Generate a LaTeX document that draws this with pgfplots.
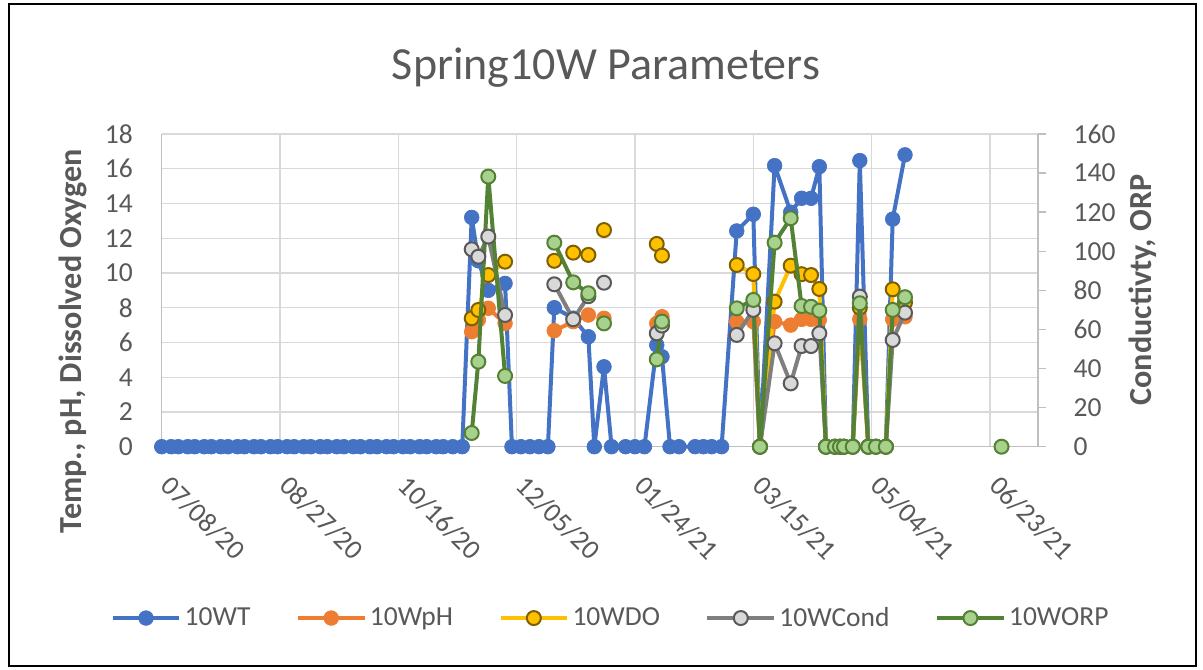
\documentclass[border=0pt]{standalone}
\usepackage{fontspec}
\setmainfont{Carlito}
\usepackage{pgfplots}
\pgfplotsset{compat=1.18}
\usepackage{pgfplotstable}
\definecolor{cWT}{HTML}{4472C4}
\definecolor{cPH}{HTML}{ED7D31}
\definecolor{cDO}{HTML}{FFC000}
\definecolor{cDOe}{HTML}{7F6000}
\definecolor{cCondL}{HTML}{7F7F7F}
\definecolor{cCondF}{HTML}{D9D9D9}
\definecolor{cCondE}{HTML}{595959}
\definecolor{cORP}{HTML}{548235}
\definecolor{cORPf}{HTML}{A9D18E}
\definecolor{cText}{HTML}{595959}
\definecolor{cGrid}{HTML}{D9D9D9}
\definecolor{cAxis}{HTML}{BFBFBF}

\pgfplotstableread{
x y
0 0
4 0
7 0
11 0
14 0
18 0
21 0
25 0
28 0
32 0
35 0
39 0
42 0
46 0
49 0
53 0
56 0
60 0
63 0
67 0
70 0
74 0
77 0
81 0
84 0
88 0
91 0
95 0
98 0
102 0
105 0
109 0
112 0
116 0
119 0
123 0
127 0
131 13.2
133.8 10.7
138 9.0
145.1 9.4
148 0
151.8 0
155.6 0
159.4 0
163.2 0
165.9 8.0
173.9 7.4
180.3 6.33
182.8 0
186.9 4.6
190.1 0
196 0
200 0
204 0
209.2 5.85
211.4 5.18
214.8 0
218.6 0
225.4 0
228.9 0
232.4 0
236.6 0
243 12.42
250 13.38
252.8 0
259 16.18
265.8 13.5
270.4 14.3
274.4 14.3
277.9 16.12
280.7 0
284.5 0
286.6 0
288.3 0
292 0
295 16.47
298.6 0
301.8 0
306 0
308.9 13.1
314.1 16.8
}\tWT

\pgfplotstableread{
x y
131 6.62
133.8 7.3
138 7.97
145.1 7.1
150 nan
165.9 6.68
173.9 7.2
180.3 7.58
182.8 nan
186.9 7.39
190 nan
209.2 7.1
211.4 7.48
214 nan
243 7.2
250 7.2
252.8 0
259 7.2
265.8 7.0
270.4 7.33
274.4 7.33
277.9 7.3
280.7 0
284.5 0
286.6 0
288.3 0
292 0
295 7.33
298.6 0
301.8 0
306 0
308.9 7.33
314.1 7.48
}\tPH

\pgfplotstableread{
x y
131 7.39
133.8 7.87
138 9.88
145.1 10.65
150 nan
165.9 10.7
170 nan
173.9 11.17
177 nan
180.3 11.04
182.8 nan
186.9 12.47
190 nan
209.2 11.67
210.3 nan
211.4 11.0
214 nan
243 10.46
250 9.94
252.8 0
259 8.35
265.8 10.42
270.4 9.93
274.4 9.88
277.9 9.08
280.7 0
284.5 0
286.6 0
288.3 0
292 0
295 8.0
298.6 0
301.8 0
306 0
308.9 9.06
314.1 8.3
}\tDO

\pgfplotstableread{
x y
131 101
133.8 97.2
138 107.5
145.1 67.4
150 nan
165.9 83.1
173.9 65.2
180.3 77
182.8 nan
186.9 83.9
190 nan
209.2 58.0
211.4 62
214 nan
243 57.2
250 70.0
252.8 0
259 52.9
265.8 32.4
270.4 51.5
274.4 51.5
277.9 58.0
280.7 0
284.5 0
286.6 0
288.3 0
292 0
295 76.8
298.6 0
301.8 0
306 0
308.9 54.6
314.1 68.6
}\tCond

\pgfplotstableread{
x y
131 7.0
133.8 43.5
138 138.2
145.1 36.2
150 nan
165.9 104.4
173.9 84.1
180.3 78.5
182.8 nan
186.9 63.1
190 nan
209.2 44.7
211.4 64.0
214 nan
243 70.8
250 75.1
252.8 0
259 104.4
265.8 116.9
270.4 72.0
274.4 71.6
277.9 69.6
280.7 0
284.5 0
286.6 0
288.3 0
292 0
295 73.4
298.6 0
301.8 0
306 0
308.9 70.0
314.1 76.5
330 nan
354.9 0
}\tORP

\pgfplotsset{
  sWT/.style={color=cWT, line width=2.4pt, line join=round, mark=*, mark size=4.4pt, mark options={solid, fill=cWT, draw=cWT, line width=0.4pt}},
  sPH/.style={color=cPH, line width=2.4pt, line join=round, mark=*, mark size=4.4pt, mark options={solid, fill=cPH, draw=cPH, line width=0.4pt}},
  sDO/.style={color=cDO, line width=2.4pt, line join=round, mark=*, mark size=4.2pt, mark options={solid, fill=cDO, draw=cDOe, line width=1.2pt}},
  sCond/.style={color=cCondL, line width=2.4pt, line join=round, mark=*, mark size=4.2pt, mark options={solid, fill=cCondF, draw=cCondE, line width=1.2pt}},
  sORP/.style={color=cORP, line width=2.4pt, line join=round, mark=*, mark size=4.2pt, mark options={solid, fill=cORPf, draw=cORP, line width=1.2pt}},
  legend image code/.code={\draw[mark repeat=2,mark phase=2,#1] plot coordinates {(0pt,0pt) (20pt,0pt) (40pt,0pt)};},
}

\newcommand{\tickfont}{\fontsize{16.5}{19.8}\selectfont}

\begin{document}
\begin{tikzpicture}[x=0.6pt,y=0.6pt]
\useasboundingbox (0,0) rectangle (1203,670);
\fill[white] (0,0) rectangle (1203,670);
\draw[black, line width=1.5pt] (9,4) rectangle (1196,666);
\node[font=\fontsize{27.6}{33}\selectfont, text=cText] at (606,602) {Spring10W Parameters};
\node[font=\fontsize{19.3}{23}\selectfont\bfseries, text=cText, rotate=90] at (73,329) {Temp., pH, Dissolved Oxygen};
\node[font=\fontsize{19.3}{23}\selectfont\bfseries, text=cText, rotate=90] at (1143,380) {Conductivty, ORP};

\begin{axis}[
  at={(97.02pt,133.98pt)}, anchor=south west,
  scale only axis, width=525.78pt, height=187.62pt,
  xmin=0, xmax=370.3, ymin=0, ymax=18,
  clip=false, unbounded coords=jump,
  axis x line*=bottom, axis y line*=left,
  axis line style={-, draw=cAxis, line width=0.9pt},
  xtick={0,50,...,350},
  xticklabels={07/08/20,08/27/20,10/16/20,12/05/20,01/24/21,03/15/21,05/04/21,06/23/21},
  ytick={0,2,...,18},
  major tick length=0pt,
  grid=major, grid style={draw=cGrid, line width=0.75pt},
  tick label style={font=\tickfont, text=cText},
  /pgf/number format/assume math mode=true,
  yticklabel style={anchor=east, inner sep=0pt, xshift=-17.2pt},
  xticklabel style={rotate=-45, anchor=north west, inner sep=0pt, xshift=16.3pt, yshift=-6.5pt},
]
\addplot[sWT] table[x=x,y=y] {\tWT};
\addplot[sPH] table[x=x,y=y] {\tPH};
\addplot[sDO] table[x=x,y=y] {\tDO};
\end{axis}

\begin{axis}[
  at={(97.02pt,133.98pt)}, anchor=south west,
  scale only axis, width=525.78pt, height=187.62pt,
  xmin=0, xmax=370.3, ymin=0, ymax=160,
  clip=false, unbounded coords=jump,
  axis x line=none, axis y line*=right,
  axis line style={-, draw=cAxis, line width=0.9pt},
  ytick={0,20,...,160},
  tick align=outside, major tick length=5pt,
  tick style={draw=cAxis, line width=0.9pt},
  tick label style={font=\tickfont, text=cText},
  /pgf/number format/assume math mode=true,
  yticklabel style={anchor=west, inner sep=0pt, xshift=16.2pt},
  legend columns=5,
  legend style={draw=none, fill=none, at={(0.513,-0.548)}, anchor=center,
    font=\tickfont, text=cText,
    /tikz/every even column/.append style={column sep=25.3pt}},
]
\addlegendimage{sWT}\addlegendentry{10WT}
\addlegendimage{sPH}\addlegendentry{10WpH}
\addlegendimage{sDO}\addlegendentry{10WDO}
\addplot[sCond] table[x=x,y=y] {\tCond};
\addlegendentry{10WCond}
\addplot[sORP] table[x=x,y=y] {\tORP};
\addlegendentry{10WORP}
\end{axis}
\end{tikzpicture}
\end{document}
